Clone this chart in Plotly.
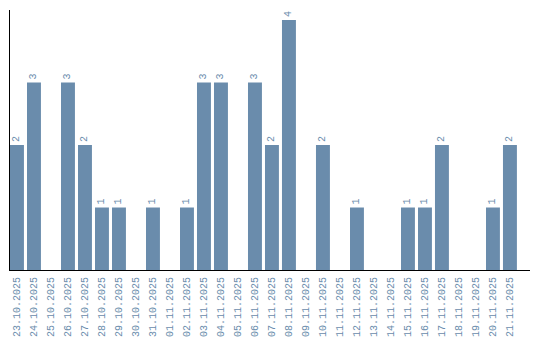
import plotly.graph_objects as go

dates = ["23.10.2025", "24.10.2025", "25.10.2025", "26.10.2025", "27.10.2025",
         "28.10.2025", "29.10.2025", "30.10.2025", "31.10.2025", "01.11.2025",
         "02.11.2025", "03.11.2025", "04.11.2025", "05.11.2025", "06.11.2025",
         "07.11.2025", "08.11.2025", "09.11.2025", "10.11.2025", "11.11.2025",
         "12.11.2025", "13.11.2025", "14.11.2025", "15.11.2025", "16.11.2025",
         "17.11.2025", "18.11.2025", "19.11.2025", "20.11.2025", "21.11.2025"]
counts = [2, 3, 0, 3, 2, 1, 1, 0, 1, 0, 1, 3, 3, 0, 3, 2, 4, 0, 2, 0,
          1, 0, 0, 1, 1, 2, 0, 0, 1, 2]

bar_color = "#6a8cac"
labels = [str(v) if v > 0 else "" for v in counts]

fig = go.Figure(go.Bar(
    x=dates, y=counts, text=labels,
    textposition="outside", textangle=-90, cliponaxis=False,
    constraintext="none",
    textfont=dict(family="Liberation Mono", size=10, color=bar_color),
    marker=dict(color=bar_color, line=dict(width=0)),
    width=0.82,
))

fig.update_layout(
    width=540, height=340,
    margin=dict(l=10, r=10, t=10, b=70, autoexpand=False),
    paper_bgcolor="white", plot_bgcolor="white",
    showlegend=False,
    xaxis=dict(type="category", range=[-0.41, 30.18], showgrid=False,
               automargin=False,
               showline=True, linecolor="black", linewidth=1,
               ticks="", tickangle=-90, ticklabelstandoff=2,
               tickfont=dict(family="Liberation Mono", size=10, color=bar_color)),
    yaxis=dict(range=[0, 4.16], showgrid=False, zeroline=False,
               automargin=False,
               showline=True, linecolor="black", linewidth=1,
               showticklabels=False, ticks=""),
)

fig.write_html("out.html")
